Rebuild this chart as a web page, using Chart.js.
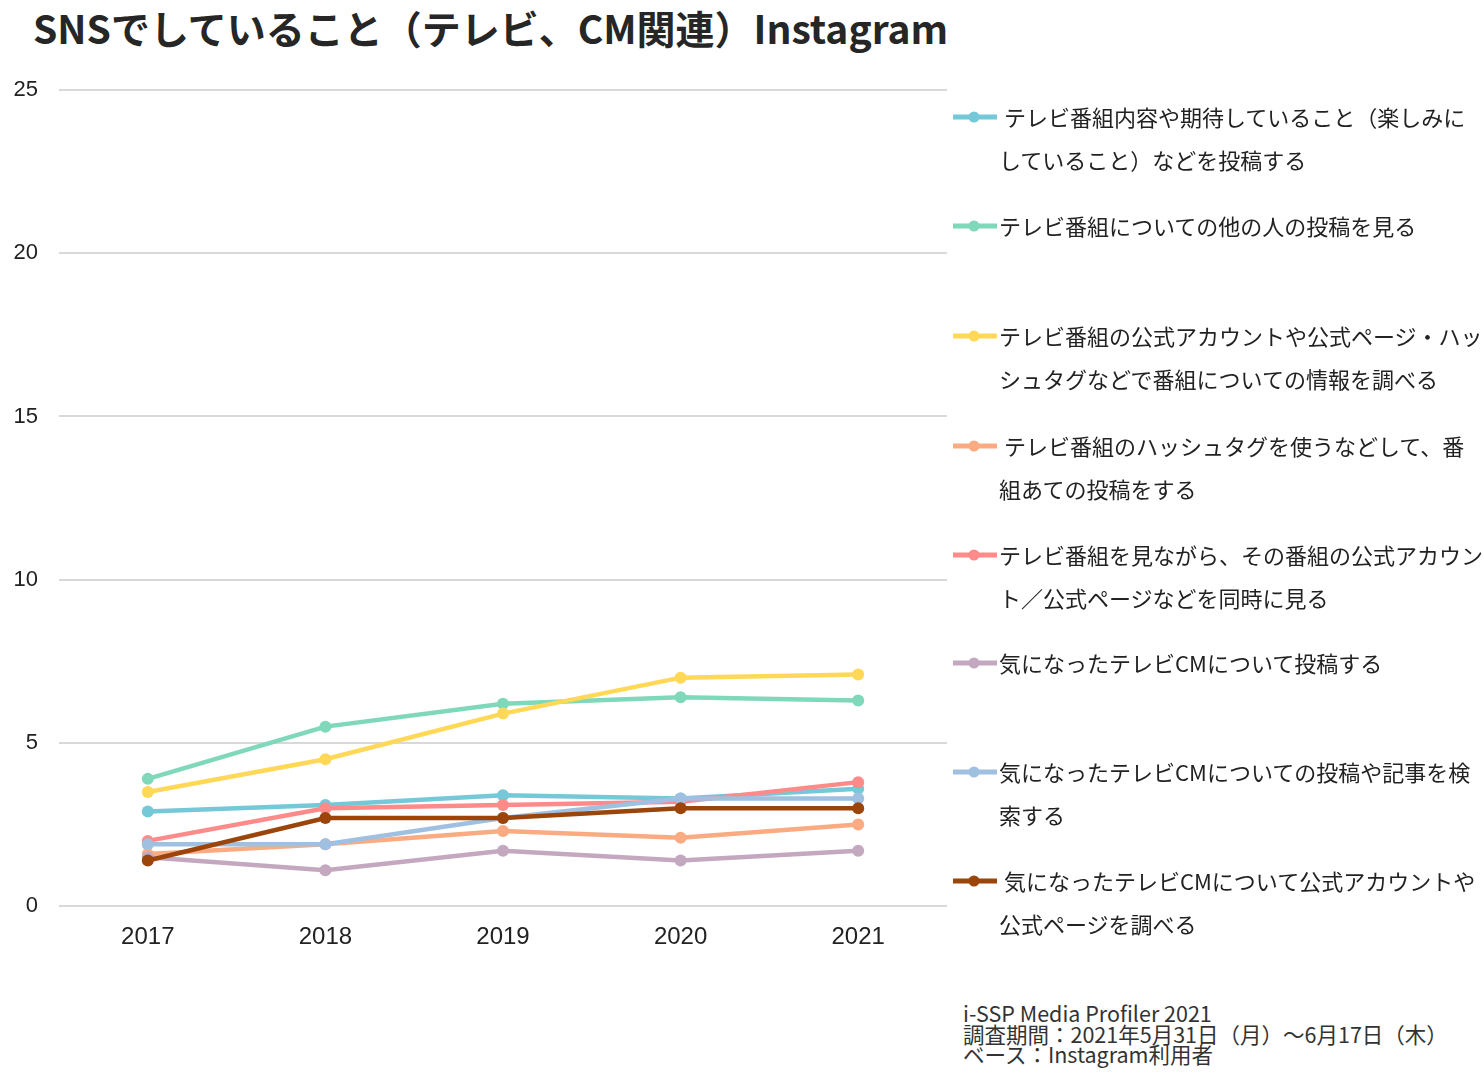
<!DOCTYPE html>
<html lang="ja">
<head>
<meta charset="utf-8">
<script src="https://cdn.jsdelivr.net/npm/chart.js@4/dist/chart.umd.min.js"></script>
<style>
  body { margin: 0; background: #fff; width: 1484px; height: 1083px; position: relative; overflow: hidden; }
  #title { position: absolute; left: 33px; top: -1px; font: 700 39px "Noto Sans CJK JP", sans-serif; color: #262626; white-space: nowrap; }
  #wrap { position: absolute; left: 0; top: 0; width: 960px; height: 1083px; }
  #legend { position: absolute; left: 953px; top: 0; width: 531px; }
  .item { position: absolute; left: 0; display: flex; align-items: flex-start; }
  .item svg { flex: none; margin-top: 16px; }
  .item .txt { font: 22px "Noto Sans CJK JP", sans-serif; color: #222; line-height: 43px; white-space: pre; margin-left: 2px; }
  #source { position: absolute; left: 963px; top: 1003px; font: 21.5px "Noto Sans CJK JP", sans-serif; color: #333; line-height: 20.5px; white-space: pre; }
</style>
</head>
<body>
<div id="title">SNSでしていること（テレビ、CM関連）Instagram</div>
<div id="wrap"><canvas id="chart"></canvas></div>
<div id="legend"></div>
<div id="source">i-SSP Media Profiler 2021
調査期間：2021年5月31日（月）～6月17日（木）
ベース：Instagram利用者</div>
<script>
const years = ["2017", "2018", "2019", "2020", "2021"];

const seriesNames = [
    [" テレビ番組内容や期待していること（楽しみに", "していること）などを投稿する"],
    ["テレビ番組についての他の人の投稿を見る"],
    ["テレビ番組の公式アカウントや公式ページ・ハッ", "シュタグなどで番組についての情報を調べる"],
    [" テレビ番組のハッシュタグを使うなどして、番", "組あての投稿をする"],
    ["テレビ番組を見ながら、その番組の公式アカウン", "ト／公式ページなどを同時に見る"],
    ["気になったテレビCMについて投稿する"],
    ["気になったテレビCMについての投稿や記事を検", "索する"],
    [" 気になったテレビCMについて公式アカウントや", "公式ページを調べる"],
];

const postExpect = [2.9, 3.1, 3.4, 3.3, 3.6];
const seeOthers = [3.9, 5.5, 6.2, 6.4, 6.3];
const searchOfficial = [3.5, 4.5, 5.9, 7.0, 7.1];
const hashtagPost = [1.6, 1.9, 2.3, 2.1, 2.5];
const watchOfficial = [2.0, 3.0, 3.1, 3.2, 3.8];
const cmPost = [1.5, 1.1, 1.7, 1.4, 1.7];
const cmSearch = [1.9, 1.9, 2.7, 3.3, 3.3];
const cmOfficial = [1.4, 2.7, 2.7, 3.0, 3.0];

const yTicks = [0, 5, 10, 15, 20, 25];

const colors = ["#74c8d8", "#7fd8b9", "#ffd857", "#fbab82", "#ff8a8a", "#c4a8bf", "#9fc0e0", "#9b450b"];
const values = [postExpect, seeOthers, searchOfficial, hashtagPost, watchOfficial, cmPost, cmSearch, cmOfficial];

const datasets = values.map((v, i) => ({
    label: seriesNames[i].join(""),
    data: v,
    borderColor: colors[i],
    backgroundColor: colors[i],
    borderWidth: 4.5,
    pointRadius: 6,
    pointHoverRadius: 6,
    pointBorderWidth: 0,
    tension: 0,
    order: values.length - i,
}));

Chart.defaults.font.family = "'Liberation Sans', Arial, sans-serif";
Chart.defaults.color = "#222";

const chart = new Chart(document.getElementById("chart"), {
    type: "line",
    data: { labels: years, datasets: datasets },
    options: {
        responsive: true,
        maintainAspectRatio: false,
        animation: false,
        layout: { padding: { top: 90, left: 13, right: 13, bottom: 122 } },
        plugins: { legend: { display: false }, tooltip: { enabled: false } },
        scales: {
            x: {
                offset: true,
                grid: { display: false },
                border: { display: false },
                ticks: { font: { size: 24 }, padding: 9, color: "#222" },
            },
            y: {
                min: 0,
                max: 25,
                afterBuildTicks: (axis) => { axis.ticks = yTicks.map((v) => ({ value: v })); },
                afterFit: (axis) => { axis.width = 46; },
                grid: { color: "#d9d9d9", lineWidth: 2, drawTicks: false },
                border: { display: false },
                ticks: { font: { size: 22 }, padding: 21, color: "#222" },
            },
        },
    },
});

// legend drawn as html next to the chart
const legend = document.getElementById("legend");
const legendTop = [117, 226, 336, 446, 555, 663, 772, 881];
chart.data.datasets.forEach((ds, i) => {
    const item = document.createElement("div");
    item.className = "item";
    item.style.top = (legendTop[i] - 22) + "px";
    item.innerHTML =
        '<svg width="44" height="12"><line x1="0" y1="6" x2="44" y2="6" stroke="' + ds.borderColor +
        '" stroke-width="5"/><circle cx="21" cy="6" r="5.5" fill="' + ds.borderColor + '"/></svg>';
    const txt = document.createElement("div");
    txt.className = "txt";
    txt.textContent = seriesNames[i].join("\n");
    item.appendChild(txt);
    legend.appendChild(item);
});
</script>
</body>
</html>
